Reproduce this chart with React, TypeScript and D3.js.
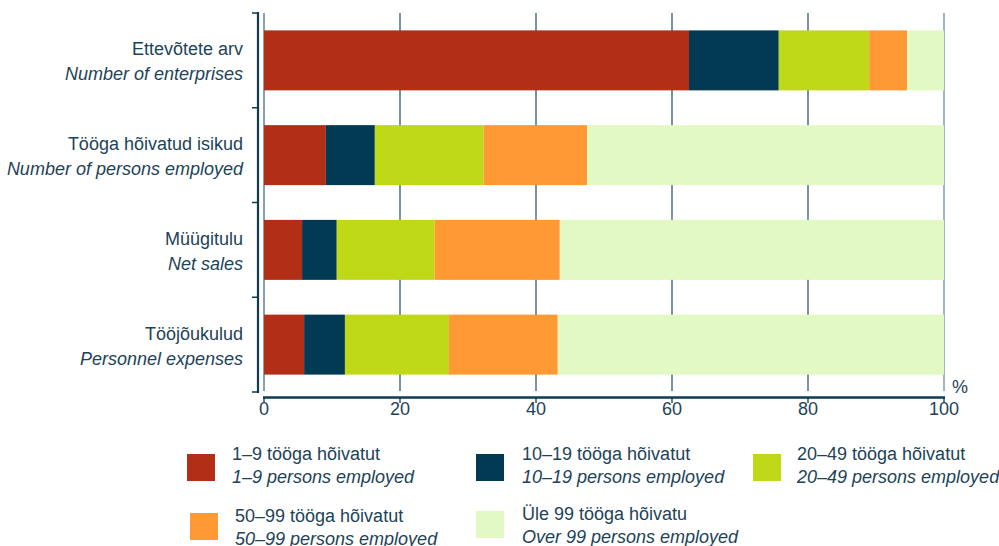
import React from "react";
import * as d3 from "d3";

const categoriesEt = ["Ettevõtete arv  ", "Tööga hõivatud isikud ", "Müügitulu", "Tööjõukulud"];
const categoriesEn = ["Number of enterprises", "Number of persons employed", "Net sales ", "Personnel expenses "];
const seriesEt = ["1–9 tööga hõivatut", "10–19 tööga hõivatut", "20–49 tööga hõivatut", "50–99 tööga hõivatut", "Üle 99 tööga hõivatu"];
const seriesEn = ["1–9 persons employed", "10–19 persons employed", "20–49 persons employed", "50–99 persons employed", "Over 99 persons employed"];
const colors = ["#B22E17", "#023A54", "#BFD919", "#FF9933", "#E3F9C4"];
// share (%) per size class, one array per category
const enterprises = [62.5, 13.2, 13.3, 5.6, 5.4];
const personsEmployed = [9.1, 7.2, 16.0, 15.2, 52.5];
const netSales = [5.6, 5.1, 14.4, 18.4, 56.5];
const personnelExpenses = [5.9, 6.0, 15.3, 16.0, 56.8];
const xTicks = [0, 20, 40, 60, 80, 100];

const rows = [enterprises, personsEmployed, netSales, personnelExpenses];

const W = 999, H = 546;
const txt = "#1D4358";
const font = "'Liberation Sans', Arial, sans-serif";

export default function App() {
  const x = d3.scaleLinear().domain([0, 100]).range([264, 944]);
  const y = d3.scaleBand<number>().domain(d3.range(4)).range([13, 392]).paddingInner(0.367).paddingOuter(0.1835);
  const stacked = rows.map((r) => {
    let acc = 0;
    return r.map((v) => { const s = acc; acc += v; return [s, acc]; });
  });
  const boundaries = [13, ...d3.range(1, 4).map((i) => (y(i)! - (y.step() - y.bandwidth()) / 2)), 392];

  const legendPos = [
    { sx: 187, sy: 454, tx: 232, b1: 460, b2: 483 },
    { sx: 476, sy: 454, tx: 522, b1: 460, b2: 483 },
    { sx: 753, sy: 454, tx: 797, b1: 460, b2: 483 },
    { sx: 190, sy: 513, tx: 235, b1: 522, b2: 545 },
    { sx: 476, sy: 511, tx: 522, b1: 520, b2: 543 },
  ];

  return (
    <div style={{ position: "absolute", left: 0, top: 0 }}>
      <svg width={W} height={H} style={{ display: "block", fontFamily: font }}>
        <rect width={W} height={H} fill="#fff" />
        {/* gridlines */}
        {xTicks.map((t) => (
          <line key={t} x1={x(t)} x2={x(t)} y1={13} y2={391} stroke={t === 0 || t === 100 ? "#5E8399" : "#1F4A5E"} strokeWidth={t === 0 ? 1.5 : 1.2} />
        ))}
        {/* bars */}
        {stacked.map((segs, i) =>
          segs.map(([a, b], j) => (
            <rect key={`${i}-${j}`} x={x(a)} y={y(i)} width={x(b) - x(a)} height={y.bandwidth()} fill={colors[j]} />
          ))
        )}
        {/* left axis */}
        <line x1={258} x2={258} y1={12} y2={393} stroke="#0F3A50" strokeWidth={2.2} />
        {boundaries.map((b, i) => (
          <line key={i} x1={252} x2={258} y1={b} y2={b} stroke="#0F3A50" strokeWidth={1.5} />
        ))}
        {/* bottom axis */}
        <line x1={263} x2={945} y1={397.5} y2={397.5} stroke="#0F3A50" strokeWidth={2.5} />
        {xTicks.map((t) => (
          <line key={t} x1={x(t)} x2={x(t)} y1={397} y2={403} stroke="#0F3A50" strokeWidth={1.3} />
        ))}
        {xTicks.map((t) => (
          <text key={t} x={x(t)} y={415} textAnchor="middle" fontSize={18} fill={txt}>{t}</text>
        ))}
        <text x={960} y={393} textAnchor="middle" fontSize={18} fill={txt}>%</text>
        {/* category labels */}
        {categoriesEt.map((c, i) => {
          const cy = y(i)! + y.bandwidth() / 2;
          return (
            <g key={i} fontSize={18} fill={txt} style={{ whiteSpace: "pre" }}>
              <text x={243} y={cy - 5} textAnchor="end">{c}</text>
              <text x={243} y={cy + 20} textAnchor="end" fontStyle="italic">{categoriesEn[i]}</text>
            </g>
          );
        })}
        {/* legend */}
        {seriesEt.map((s, i) => {
          const p = legendPos[i];
          return (
            <g key={i} fontSize={18} fill={txt}>
              <rect x={p.sx} y={p.sy} width={28} height={27} fill={colors[i]} />
              <text x={p.tx} y={p.b1}>{s}</text>
              <text x={p.tx} y={p.b2} fontStyle="italic">{seriesEn[i]}</text>
            </g>
          );
        })}
      </svg>
    </div>
  );
}
